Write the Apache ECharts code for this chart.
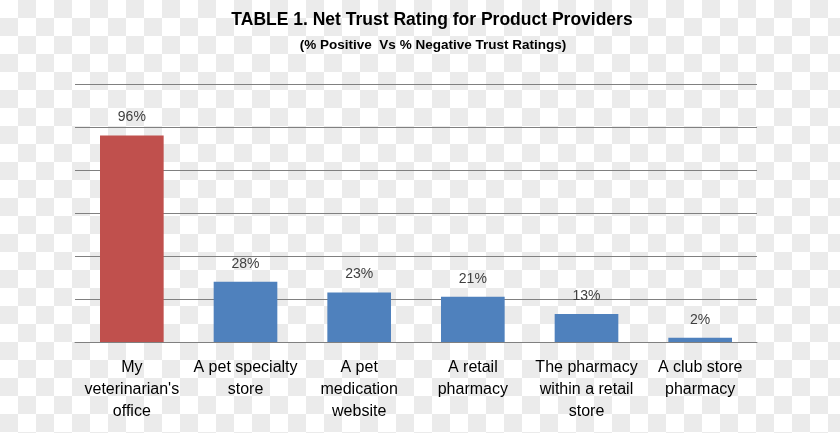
<!DOCTYPE html>
<html>
<head>
<meta charset="utf-8">
<script src="https://cdn.jsdelivr.net/npm/echarts@6/dist/echarts.min.js"></script>
<style>
html,body{margin:0;padding:0;}
body{background-color:#fff;background-image:repeating-conic-gradient(#ebebeb 0 25%, #ffffff 0 50%);background-size:36px 36px;background-position:0 0;}
#chart{width:840px;height:433px;}
</style>
</head>
<body>
<div id="chart"></div>
<script>
const titleText = "TABLE 1. Net Trust Rating for Product Providers";
const subtitleText = "(% Positive  Vs % Negative Trust Ratings)";
const categories = ["My\nveterinarian's\noffice", "A pet specialty\nstore", "A pet\nmedication\nwebsite", "A retail\npharmacy", "The pharmacy\nwithin a retail\nstore", "A club store\npharmacy"];
const values = [96, 28, 23, 21, 13, 2];
const barColors = ["#C0504D", "#4F81BD", "#4F81BD", "#4F81BD", "#4F81BD", "#4F81BD"];
const yMin = 0, yMax = 120, yStep = 20;

const font = "'Liberation Sans', Arial, sans-serif";
const chart = echarts.init(document.getElementById('chart'), null, {renderer: 'canvas'});
chart.setOption({
  backgroundColor: 'transparent',
  animation: false,
  title: [
    {text: titleText, left: 427, top: 6, textAlign: 'center',
     textStyle: {fontFamily: font, fontSize: 17.5, fontWeight: 'bold', color: '#000'}},
    {text: subtitleText, left: 428, top: 33, textAlign: 'center',
     textStyle: {fontFamily: font, fontSize: 13.5, fontWeight: 'bold', color: '#000'}}
  ],
  grid: {left: 75, right: 83, top: 84, bottom: 91, containLabel: false},
  xAxis: {
    type: 'category', data: categories,
    axisLine: {show: true, lineStyle: {color: '#808080', width: 1}},
    axisTick: {show: false},
    axisLabel: {interval: 0, margin: 15, fontFamily: font, fontSize: 16, lineHeight: 22, color: '#000'}
  },
  yAxis: {
    type: 'value', min: yMin, max: yMax, interval: yStep,
    axisLine: {show: false}, axisTick: {show: false}, axisLabel: {show: false},
    splitLine: {lineStyle: {color: '#808080', width: 1}}
  },
  series: [{
    type: 'bar', barWidth: '56%',
    data: values.map((v, i) => ({value: v, itemStyle: {color: barColors[i]}})),
    label: {show: true, position: 'top', distance: 11, formatter: p => p.value + '%',
      fontFamily: font, fontSize: 14, color: '#404040'}
  }]
});
</script>
</body>
</html>
